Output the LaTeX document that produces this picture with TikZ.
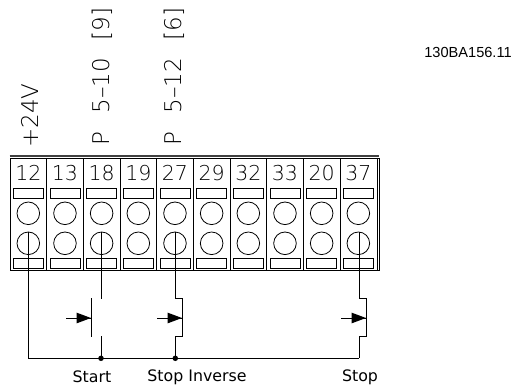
\documentclass[tikz,border=0pt]{standalone}
\usepackage{fontspec}
\setmainfont{DejaVu Sans}
\newfontfamily\thinfont{DejaVu Sans ExtraLight}
\newfontfamily\codefont{Liberation Sans}
\newcommand{\gapp}{\hspace{18pt}}
\tikzset{
  wire/.style={line width=0.9pt,line cap=butt},
  frame/.style={line width=0.8pt},
  tnum/.style={inner sep=0pt,font=\thinfont\fontsize{20.5}{20.5}\selectfont},
  rlabel/.style={inner sep=0pt,rotate=90,anchor=west,font=\thinfont\fontsize{23}{23}\selectfont},
  blabel/.style={inner sep=0pt,font=\fontsize{15.8}{16}\selectfont},
  jdot/.style={circle,fill=black,inner sep=0pt,minimum size=5.5pt},
  tip/.style={fill=black,draw=none}
}
\begin{document}
\begin{tikzpicture}[x=1pt,y=-1pt]
\useasboundingbox (0,0) rectangle (513,387);
% block outline
\draw[frame,line width=1.4pt,black!75] (9.5,156) -- (379,156);
\draw[frame] (10,158) rectangle (379,270.5);
\draw[frame] (377.3,158) -- (377.3,270.5);
\foreach \i/\t in {0/12,1/13,2/18,3/19,4/27,5/29,6/32,7/33,8/20,9/37}{
  \pgfmathsetmacro{\cx}{28.3+36.67*\i}
  \node[tnum] (t\i) at (\cx,173) {\t};
  \draw[frame] (\cx-15,188) rectangle (\cx+15,198);
  \draw[frame] (\cx-15,258) rectangle (\cx+15,268);
  \draw[frame] (\cx,213.3) circle (11.3);
  \draw[frame] (\cx,243.3) circle (11.3);
  \coordinate (w\i) at (\cx,231.7);
}
\foreach \i in {1,...,9}{
  \pgfmathsetmacro{\dx}{10+36.67*\i}
  \draw[frame] (\dx,158) -- (\dx,270.5);
}
% rotated labels
\node[rlabel] (v24) at (30,148) {+24V};
\node[rlabel] (p18) at (102,145.5) {P\gapp 5–10\gapp [9]};
\node[rlabel] (p27) at (174.5,145.5) {P\gapp 5–12\gapp [6]};
\node[inner sep=0pt,font=\codefont\fontsize{14.6}{15}\selectfont] (code) at (468,52) {130BA156.11};
% coordinates of wiring
\coordinate (bl) at (28.3,358.3);
\coordinate (j18) at (101,358.3);
\coordinate (j27) at (175.3,358.3);
\coordinate (br) at (359.3,358.3);
% wires
\draw[wire] (w0) -- (bl) -- (br);
\draw[wire] (w2-|j18) -- (101,299.3);
\draw[wire] (101,336) -- (j18);
\draw[wire] (w4-|j27) -- (175.3,298.7) -- (182,298.7) -- (182,336.7) -- (175.3,336.7) -- (j27);
\draw[wire] (w9-|br) -- (359.3,298.7) -- (366,298.7) -- (366,336.7) -- (359.3,336.7) -- (br);
\draw[wire] (91,298) -- (91,337);
% arrows
\foreach \x in {91,182,366}{
  \draw[wire] (\x-25,318) -- (\x,318);
  \fill[tip] (\x,318) -- (\x-14.5,312.6) -- (\x-14.5,323.4) -- cycle;
}
\node[jdot] (d18) at (j18) {};
\node[jdot] (d27) at (j27) {};
% bottom labels
\node[blabel] (ls) at (92,377) {Start};
\node[blabel] (li) at (197,377) {Stop Inverse};
\node[blabel] (lp) at (360,377) {Stop};
\end{tikzpicture}
\end{document}
